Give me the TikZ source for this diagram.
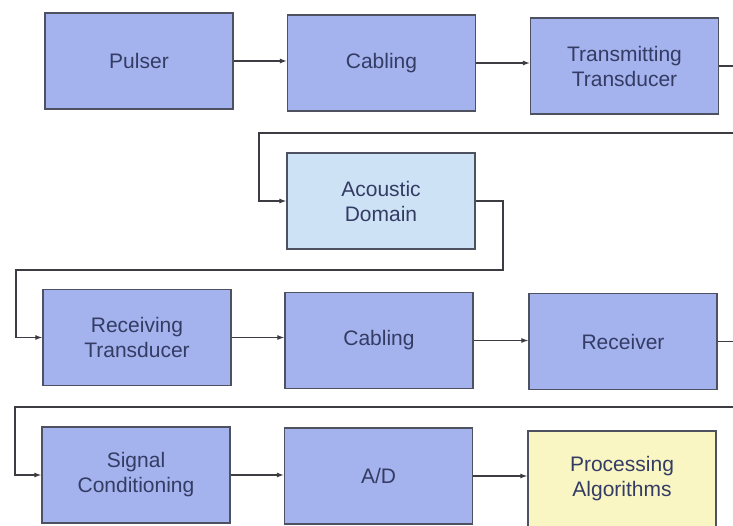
\documentclass[tikz,border=0pt]{standalone}
\usepackage{fontspec}
\setmainfont{Liberation Sans}
\usetikzlibrary{arrows.meta,calc}

\definecolor{boxblue}{RGB}{164,178,238}
\definecolor{boxsky}{RGB}{206,226,246}
\definecolor{boxcream}{RGB}{250,246,196}
\definecolor{edgegrey}{RGB}{78,82,96}
\definecolor{textslate}{RGB}{52,60,100}
\definecolor{wireblack}{RGB}{60,60,66}

\begin{document}
\begin{tikzpicture}[x=1pt,y=-1pt,
  block/.style={draw=edgegrey, line width=1.3pt, minimum width=188pt, minimum height=96pt,
    inner sep=0pt, align=center, text=textslate,
    font=\fontsize{21}{25}\selectfont},
  blue/.style={block, fill=boxblue},
  sky/.style={block, fill=boxsky},
  cream/.style={block, fill=boxcream},
  wire/.style={draw=wireblack, line width=1.1pt, -{Latex[length=7pt,width=5pt]}},
  plainwire/.style={draw=wireblack, line width=1.1pt}]
  \useasboundingbox (0,0) rectangle (733,525);
  \fill[white] (0,0) rectangle (733,525);

  % transmit chain
  \node[blue]  (pulser)  at (139,61)    {Pulser};
  \node[blue]  (cab1)    at (381.5,63)  {Cabling};
  \node[blue]  (txd)     at (624.5,66)  {Transmitting\\Transducer};
  % propagation
  \node[sky]   (acou)    at (381,201)   {Acoustic\\Domain};
  % receive chain
  \node[blue]  (rxd)     at (137,337.5) {Receiving\\Transducer};
  \node[blue]  (cab2)    at (379,340.5) {Cabling};
  \node[blue]  (rcv)     at (623,341.5) {Receiver};
  % digital back end
  \node[blue]  (sig)     at (136,475)   {Signal\\Conditioning};
  \node[blue]  (ad)      at (378.5,476) {A/D};
  \node[cream] (proc)    at (622,479)   {Processing\\Algorithms};

  % routing points of the return wires
  \coordinate (r1) at (745,133);
  \coordinate (l1) at (259,133);
  \coordinate (r2) at (503,270);
  \coordinate (l2) at (16,270);
  \coordinate (r3) at (745,407);
  \coordinate (l3) at (15,407);

  % straight links within a row
  \draw[wire] (pulser.east) -- (pulser.east -| cab1.west);
  \draw[wire] (cab1.east)   -- (cab1.east -| txd.west);
  \draw[wire] (rxd.east)    -- (rxd.east -| cab2.west);
  \draw[wire] (cab2.east)   -- (cab2.east -| rcv.west);
  \draw[wire] (sig.east)    -- (sig.east -| ad.west);
  \draw[wire] (ad.east)     -- (ad.east -| proc.west);

  % wrap-around links between rows
  \draw[wire] (txd.east) -| (r1) -- (l1) |- (acou.west);
  \draw[wire] (acou.east) -| (r2) -- (l2) |- (rxd.west);
  \draw[wire] (rcv.east) -| (r3) -- (l3) |- (sig.west);
\end{tikzpicture}
\end{document}
